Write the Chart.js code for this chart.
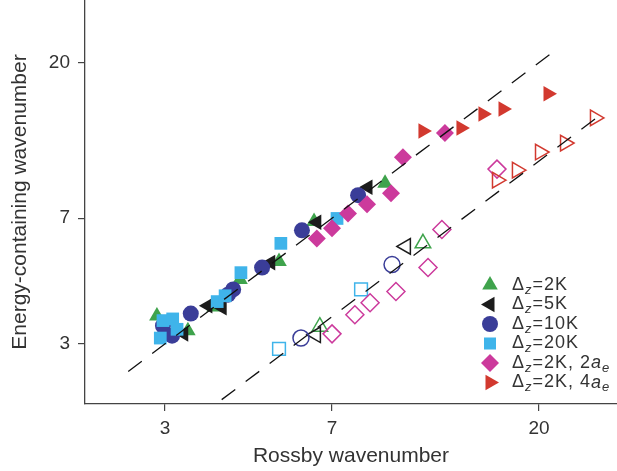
<!DOCTYPE html>
<html>
<head>
<meta charset="utf-8">
<script src="https://cdn.jsdelivr.net/npm/chart.js@4/dist/chart.umd.min.js"></script>
<style>
  html, body { margin: 0; padding: 0; background: #fff; }
  #wrap { width: 617px; height: 471px; position: relative; }
</style>
</head>
<body>
<div id="wrap"><canvas id="chart" width="617" height="471"></canvas></div>
<script>
// ---------- DATA ----------
const xTicks = [3, 7, 20];
const yTicks = [3, 7, 20];

// Δz=2K
const dz2X = [2.88, 3.37, 3.85, 4.39, 5.35, 6.39, 9.16];
const dz2Y = [3.62, 3.28, 3.85, 4.63, 5.23, 6.85, 8.87];
const dz2OpenX = [6.58, 11.10];
const dz2OpenY = [3.37, 5.91];
// Δz=5K
const dz5X = [3.30, 3.73, 4.01, 5.13, 6.48, 8.40];
const dz5Y = [3.21, 3.88, 3.83, 5.19, 6.81, 8.63];
const dz5OpenX = [6.45, 10.18];
const dz5OpenY = [3.19, 5.79];
// Δz=10K
const dz10X = [2.97, 3.11, 3.42, 4.13, 4.24, 4.91, 6.01, 7.99];
const dz10Y = [3.39, 3.17, 3.68, 4.18, 4.33, 5.02, 6.45, 8.18];
const dz10OpenX = [5.98, 9.49];
const dz10OpenY = [3.12, 5.12];
// Δz=20K
const dz20X = [2.93, 2.97, 3.12, 3.19, 3.91, 4.07, 4.41, 5.40, 7.18];
const dz20Y = [3.12, 3.51, 3.55, 3.31, 3.99, 4.15, 4.85, 5.91, 6.99];
const dz20OpenX = [5.35, 8.11];
const dz20OpenY = [2.90, 4.33];
// Δz=2K, 2ae
const ae2X = [6.48, 7.00, 7.59, 8.36, 9.44, 10.03, 12.41];
const ae2Y = [6.11, 6.54, 7.23, 7.69, 8.29, 10.57, 12.44];
const ae2OpenX = [7.00, 7.86, 8.49, 9.68, 11.39, 12.22, 16.16];
const ae2OpenY = [3.21, 3.65, 3.96, 4.27, 5.02, 6.49, 9.75];
// Δz=2K, 4ae
const ae4X = [11.10, 13.46, 15.05, 16.66, 20.93];
const ae4Y = [12.61, 12.87, 14.14, 14.63, 16.20];
const ae4OpenX = [16.16, 17.88, 20.10, 22.82, 26.56];
const ae4OpenY = [9.05, 9.68, 10.94, 11.62, 13.77];

// dashed reference lines
const lineUpX = [2.49, 21.5];
const lineUpY = [2.49, 21.5];
const lineLowX = [4.0, 27.7];
const lineLowY = [2.06, 14.25];

// ---------- STYLE ----------
const GREEN = '#3fa34c', BLACK = '#1c1c1c', NAVY = '#3a3d98',
      SKY = '#3fb4ea', MAGENTA = '#cc3a9c', RED = '#d2392f';
const FONT = "'Liberation Sans', Arial, Helvetica, sans-serif";
const TXT = '#333';

const pts = (xs, ys) => xs.map((x, i) => ({ x: x, y: ys[i] }));

function filled(label, xs, ys, color, style, rot, radius, order) {
  return {
    label: label, data: pts(xs, ys), order: order,
    pointStyle: style, rotation: rot, pointRadius: radius, pointHoverRadius: radius,
    backgroundColor: color, borderColor: color, borderWidth: 0, showLine: false
  };
}
function open(xs, ys, color, style, rot, radius, order) {
  return {
    label: '', data: pts(xs, ys), order: order,
    pointStyle: style, rotation: rot, pointRadius: radius, pointHoverRadius: radius,
    backgroundColor: 'rgba(0,0,0,0)', borderColor: color, borderWidth: 1.5, showLine: false
  };
}
function dashLine(xs, ys) {
  return {
    type: 'line', label: '', data: pts(xs, ys), order: 0,
    borderColor: '#111', borderWidth: 1.3, borderDash: [17, 13],
    pointRadius: 0, showLine: true, fill: false, tension: 0
  };
}

const legendRows = [
  { color: GREEN, style: 'triangle', rot: 0, r: 9, parts: ['=2K'] },
  { color: BLACK, style: 'triangle', rot: -90, r: 9, parts: ['=5K'] },
  { color: NAVY, style: 'circle', rot: 0, r: 8, parts: ['=10K'] },
  { color: SKY, style: 'rect', rot: 0, r: 8.5, parts: ['=20K'] },
  { color: MAGENTA, style: 'rectRot', rot: 0, r: 9, parts: ['=2K, 2', 'a', 'e'] },
  { color: RED, style: 'triangle', rot: 90, r: 9, parts: ['=2K, 4', 'a', 'e'] }
];

// ---------- LEGEND (drawn inside the plot) ----------
const insideLegend = {
  id: 'insideLegend',
  afterDraw(chart) {
    const ctx = chart.ctx;
    const mx = 490, tx = 512, y0 = 285, dy = 19.5;
    const big = '18px ' + FONT, sub = '13px ' + FONT;
    ctx.save();
    legendRows.forEach((row, i) => {
      const y = y0 + i * dy;
      ctx.fillStyle = row.color; ctx.strokeStyle = row.color;
      Chart.helpers.drawPoint(ctx, { pointStyle: row.style, rotation: row.rot, radius: row.r, borderWidth: 0 }, mx, y);
      ctx.fillStyle = TXT;
      ctx.textBaseline = 'middle';
      ctx.textAlign = 'left';
      try { ctx.letterSpacing = '1px'; } catch (e) {}
      let x = tx;
      const put = (s, font, dyy) => { ctx.font = font; ctx.fillText(s, x, y + dyy); x += ctx.measureText(s).width; };
      put('Δ', big, 0);
      put('z', 'italic ' + sub, 5);
      put(row.parts[0], big, 0);
      if (row.parts.length > 1) {
        put(row.parts[1], 'italic ' + big, 0);
        put(row.parts[2], 'italic ' + sub, 5);
      }
    });
    ctx.restore();
  }
};

const noPad = (s) => { s.paddingTop = 0; s.paddingBottom = 0; s.paddingLeft = 0; s.paddingRight = 0; };

new Chart(document.getElementById('chart'), {
  type: 'scatter',
  data: {
    datasets: [
      dashLine(lineUpX, lineUpY),
      dashLine(lineLowX, lineLowY),
      filled('Δz=2K', dz2X, dz2Y, GREEN, 'triangle', 0, 9, 6),
      open(dz2OpenX, dz2OpenY, GREEN, 'triangle', 0, 9, 6),
      filled('Δz=5K', dz5X, dz5Y, BLACK, 'triangle', -90, 9, 5),
      open(dz5OpenX, dz5OpenY, BLACK, 'triangle', -90, 9, 5),
      filled('Δz=10K', dz10X, dz10Y, NAVY, 'circle', 0, 8, 4),
      open(dz10OpenX, dz10OpenY, NAVY, 'circle', 0, 8, 4),
      filled('Δz=20K', dz20X, dz20Y, SKY, 'rect', 0, 9, 3),
      open(dz20OpenX, dz20OpenY, SKY, 'rect', 0, 9, 3),
      filled('Δz=2K, 2ae', ae2X, ae2Y, MAGENTA, 'rectRot', 0, 9, 2),
      open(ae2OpenX, ae2OpenY, MAGENTA, 'rectRot', 0, 9, 2),
      filled('Δz=2K, 4ae', ae4X, ae4Y, RED, 'triangle', 90, 9, 1),
      open(ae4OpenX, ae4OpenY, RED, 'triangle', 90, 9, 1)
    ]
  },
  options: {
    responsive: false,
    animation: false,
    layout: { padding: 0, autoPadding: false },
    plugins: { legend: { display: false }, tooltip: { enabled: false } },
    scales: {
      x: {
        type: 'logarithmic', min: 2, max: 29.7,
        afterBuildTicks: (s) => { s.ticks = xTicks.map(v => ({ value: v })); },
        afterFit: (s) => { s.height = 67; noPad(s); },
        ticks: { color: TXT, font: { family: FONT, size: 19 }, padding: 6, maxRotation: 0,
                 callback: (v) => String(v) },
        grid: { drawOnChartArea: false, drawTicks: true, tickLength: 7, color: '#444', lineWidth: 1.2 },
        border: { display: true, color: '#444', width: 1.3 },
        title: { display: true, text: 'Rossby wavenumber', color: TXT,
                 font: { family: FONT, size: 21 }, padding: { top: 0, bottom: 2 } }
      },
      y: {
        type: 'logarithmic', min: 2, max: 30.5,
        afterBuildTicks: (s) => { s.ticks = yTicks.map(v => ({ value: v })); },
        afterFit: (s) => { s.width = 85; noPad(s); },
        ticks: { color: TXT, font: { family: FONT, size: 19 }, padding: 8,
                 callback: (v) => String(v) },
        grid: { drawOnChartArea: false, drawTicks: true, tickLength: 7, color: '#444', lineWidth: 1.2 },
        border: { display: true, color: '#444', width: 1.3 },
        title: { display: true, text: 'Energy-containing wavenumber', color: TXT,
                 font: { family: FONT, size: 21 }, padding: { top: 8, bottom: 0 } }
      }
    }
  },
  plugins: [insideLegend]
});
</script>
</body>
</html>
